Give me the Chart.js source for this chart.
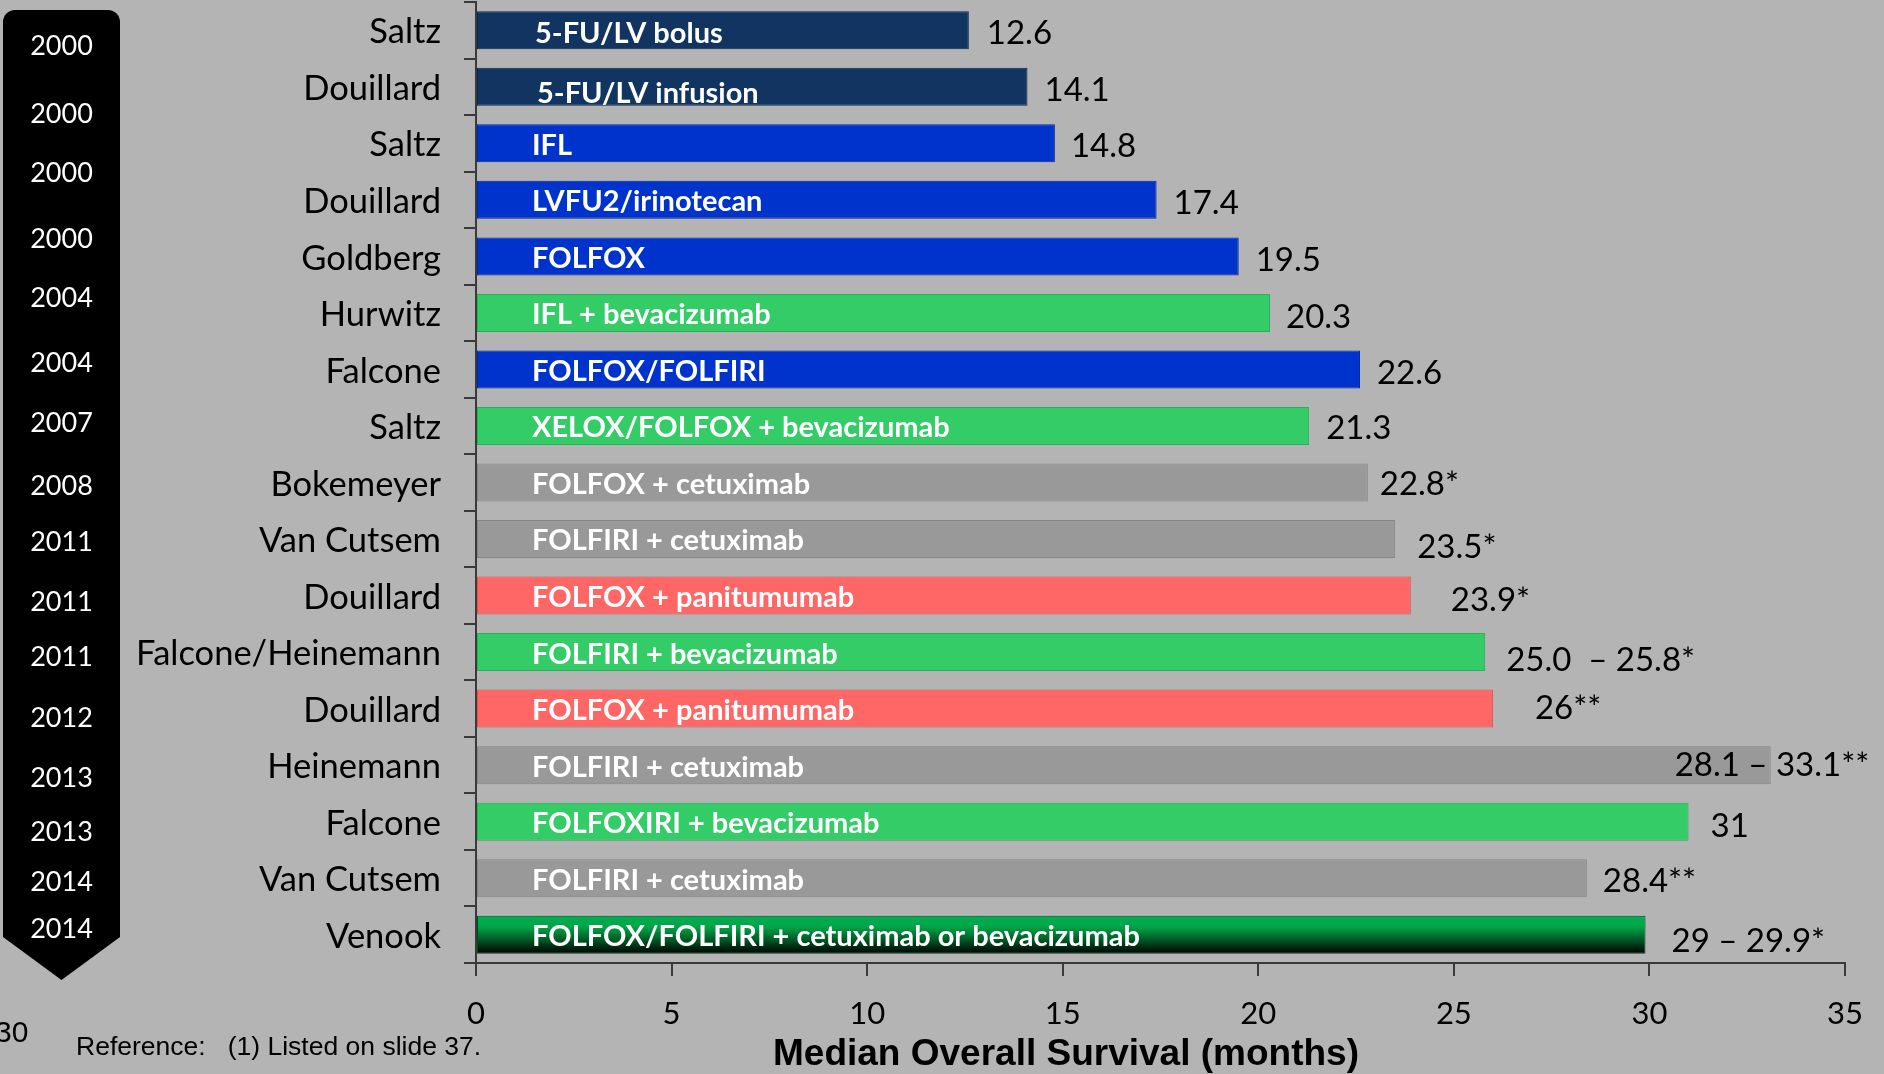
<!DOCTYPE html>
<html>
<head>
<meta charset="utf-8">
<style>
  html, body { margin: 0; padding: 0; background: #B4B4B4; overflow: hidden; }
  #wrap { width: 1884px; height: 1074px; }
</style>
<script src="https://cdn.jsdelivr.net/npm/chart.js@4.4.1/dist/chart.umd.min.js"></script>
</head>
<body>
<div id="wrap"><canvas id="c" width="1884" height="1074"></canvas></div>
<script>
// ---------------- DATA ----------------
const categories = ['Saltz','Douillard','Saltz','Douillard','Goldberg','Hurwitz','Falcone','Saltz','Bokemeyer','Van Cutsem','Douillard','Falcone/Heinemann','Douillard','Heinemann','Falcone','Van Cutsem','Venook'];
const regimens = ['5-FU/LV bolus','5-FU/LV infusion','IFL','LVFU2/irinotecan','FOLFOX','IFL + bevacizumab','FOLFOX/FOLFIRI','XELOX/FOLFOX + bevacizumab','FOLFOX + cetuximab','FOLFIRI + cetuximab','FOLFOX + panitumumab','FOLFIRI + bevacizumab','FOLFOX + panitumumab','FOLFIRI + cetuximab','FOLFOXIRI + bevacizumab','FOLFIRI + cetuximab','FOLFOX/FOLFIRI + cetuximab or bevacizumab'];
const survivalMonths = [12.6, 14.1, 14.8, 17.4, 19.5, 20.3, 22.6, 21.3, 22.8, 23.5, 23.9, 25.8, 26, 33.1, 31, 28.4, 29.9];
const valueLabels = ['12.6','14.1','14.8','17.4','19.5','20.3','22.6','21.3','22.8*','23.5*','23.9*','25.0  \u2013 25.8*','26**','28.1 \u2013 33.1**','31','28.4**','29 \u2013 29.9*'];
const regimenGroups = ['navy','navy','blue','blue','blue','green','blue','green','gray','gray','red','green','red','gray','green','gray','darkgreen'];
const years = ['2000','2000','2000','2000','2004','2004','2007','2008','2011','2011','2011','2012','2013','2013','2014','2014'];
const xTickValues = [0, 5, 10, 15, 20, 25, 30, 35];
const axisTitle = 'Median Overall Survival (months)';
const referenceText = 'Reference:   (1) Listed on slide 37.';
const slideNumber = '30';

// ---------------- STYLE / LAYOUT ----------------
const palette = {
  navy:  { fill: '#113460', border: '#0d2a4e' },
  blue:  { fill: '#0033CC', border: '#0029a8' },
  green: { fill: '#33CC66', border: '#2bb058' },
  gray:  { fill: '#999999', border: '#868686' },
  red:   { fill: '#FF6666', border: '#d95656' },
  darkgreen: { fill: '#00A044', border: '#004a1e' }
};
const BAR_PCT = 0.672;
const FONT = 'Lato, Carlito, Calibri, sans-serif';
// text box placements (pixel nudges of annotations, as on the slide)
const yearCenters = [45,113,172,238,297,362,422,485,541,601,656,717,777,831,881,928];
const valueNudgeX = [1,0,-1,0,0,-1,0,0,-5,5,23,4,25,-113,5,-1,9];
const valueNudgeY = [0,0,0,0,1,1,1,-1,-1,5,2,5,-3,-3,1,0,3];
const innerNudgeX = [3,5,0,0,0,0,0,0,0,0,0,0,0,0,0,0,0];
const innerNudgeY = [1,5,0,0,0,0,0,0,0,0,0,0,0,0,0,0,0];

function barFill(c) {
  const g = regimenGroups[c.dataIndex];
  if (g === 'darkgreen') {
    const chart = c.chart;
    const ys = chart.scales && chart.scales.y;
    if (!ys || !chart.chartArea) return palette.darkgreen.fill;
    const center = ys.getPixelForValue(c.dataIndex);
    const step = Math.abs(ys.getPixelForValue(1) - ys.getPixelForValue(0));
    const h = step * BAR_PCT / 2;
    const grad = chart.ctx.createLinearGradient(0, center - h, 0, center + h);
    grad.addColorStop(0, '#00B050');
    grad.addColorStop(0.3, '#00A447');
    grad.addColorStop(0.65, '#005523');
    grad.addColorStop(1, '#000000');
    return grad;
  }
  return palette[g].fill;
}
function barBorder(c) { return palette[regimenGroups[c.dataIndex]].border; }

const backgroundPlugin = {
  id: 'slideBackground',
  beforeDraw(chart) {
    const ctx = chart.ctx;
    ctx.save();
    ctx.fillStyle = '#B4B4B4';
    ctx.fillRect(0, 0, chart.width, chart.height);
    // black year ribbon
    const L = 3, R = 120, T = 10, S = 937, tipY = 980, r = 12;
    const tipX = (L + R) / 2;
    ctx.beginPath();
    ctx.moveTo(L, T + r);
    ctx.arcTo(L, T, L + r, T, r);
    ctx.lineTo(R - r, T);
    ctx.arcTo(R, T, R, T + r, r);
    ctx.lineTo(R, S);
    ctx.lineTo(tipX, tipY);
    ctx.lineTo(L, S);
    ctx.closePath();
    ctx.fillStyle = '#000000';
    ctx.fill();
    ctx.fillStyle = '#FFFFFF';
    ctx.font = '27px ' + FONT;
    ctx.textAlign = 'center';
    ctx.textBaseline = 'alphabetic';
    years.forEach((yr, i) => {
      ctx.fillText(yr, tipX, yearCenters[i] + 27 * 0.36);
    });
    ctx.restore();
  }
};

const annotationPlugin = {
  id: 'slideAnnotations',
  afterDatasetsDraw(chart) {
    const ctx = chart.ctx;
    const meta = chart.getDatasetMeta(0);
    ctx.save();
    ctx.textBaseline = 'alphabetic';
    meta.data.forEach((bar, i) => {
      const left = Math.min(bar.x, bar.base);
      const right = Math.max(bar.x, bar.base);
      // regimen text inside bar
      ctx.font = 'bold 29px ' + FONT;
      ctx.fillStyle = '#FFFFFF';
      ctx.textAlign = 'left';
      ctx.fillText(regimens[i], left + 55 + innerNudgeX[i], bar.y + 29 * 0.36 + 1 + innerNudgeY[i]);
      // value label
      ctx.font = '33px ' + FONT;
      ctx.fillStyle = '#000000';
      ctx.fillText(valueLabels[i], right + 17 + valueNudgeX[i], bar.y + 33 * 0.36 + 2 + valueNudgeY[i]);
    });
    ctx.restore();
  },
  afterDraw(chart) {
    const ctx = chart.ctx;
    ctx.save();
    ctx.fillStyle = '#000000';
    ctx.textBaseline = 'alphabetic';
    ctx.textAlign = 'center';
    ctx.font = 'bold 37px "Liberation Sans", Arial, sans-serif';
    ctx.fillText(axisTitle, 1066, 1065);
    ctx.textAlign = 'left';
    ctx.font = '26.5px "Liberation Sans", Arial, sans-serif';
    ctx.fillText(referenceText, 76, 1055);
    ctx.font = '30px "Liberation Sans", Arial, sans-serif';
    ctx.fillText(slideNumber, -5, 1042);
    ctx.restore();
  }
};

function build() {
  const ctx = document.getElementById('c').getContext('2d');
  new Chart(ctx, {
    type: 'bar',
    data: {
      labels: categories,
      datasets: [{
        data: survivalMonths,
        backgroundColor: barFill,
        borderColor: barBorder,
        borderWidth: 1,
        borderSkipped: false,
        barPercentage: BAR_PCT,
        categoryPercentage: 1
      }]
    },
    options: {
      indexAxis: 'y',
      responsive: false,
      animation: false,
      events: [],
      layout: { padding: { left: 0, right: 39, top: 2, bottom: 0 } },
      plugins: { legend: { display: false }, tooltip: { enabled: false }, title: { display: false } },
      scales: {
        x: {
          type: 'linear',
          min: 0, max: 35,
          afterBuildTicks: s => { s.ticks = xTickValues.map(v => ({ value: v })); },
          ticks: { font: { family: FONT, size: 31 }, color: '#000000', padding: 19, maxRotation: 0, autoSkip: false },
          grid: { drawOnChartArea: false, drawTicks: true, tickLength: 13, color: '#3a3a3a', lineWidth: 2 },
          border: { color: '#3a3a3a', width: 2 },
          afterFit: s => { s.height = 111; s.paddingLeft = 0; s.paddingRight = 0; }
        },
        y: {
          ticks: { font: { family: FONT, size: 34.5 }, color: '#000000', padding: 23, autoSkip: false, labelOffset: 2 },
          grid: { drawOnChartArea: false, drawTicks: true, tickLength: 12, color: '#3a3a3a', lineWidth: 2, offset: true },
          border: { color: '#3a3a3a', width: 2 },
          afterFit: s => { s.width = 476; s.paddingTop = 0; s.paddingBottom = 0; }
        }
      }
    },
    plugins: [backgroundPlugin, annotationPlugin]
  });
}

const fontLoads = [
  '27px Lato', 'bold 29px Lato', '34px Lato', 'bold 37px "Liberation Sans"', '26px "Liberation Sans"'
].map(f => document.fonts.load(f).catch(() => null));
Promise.all(fontLoads).then(build, build);
</script>
</body>
</html>
